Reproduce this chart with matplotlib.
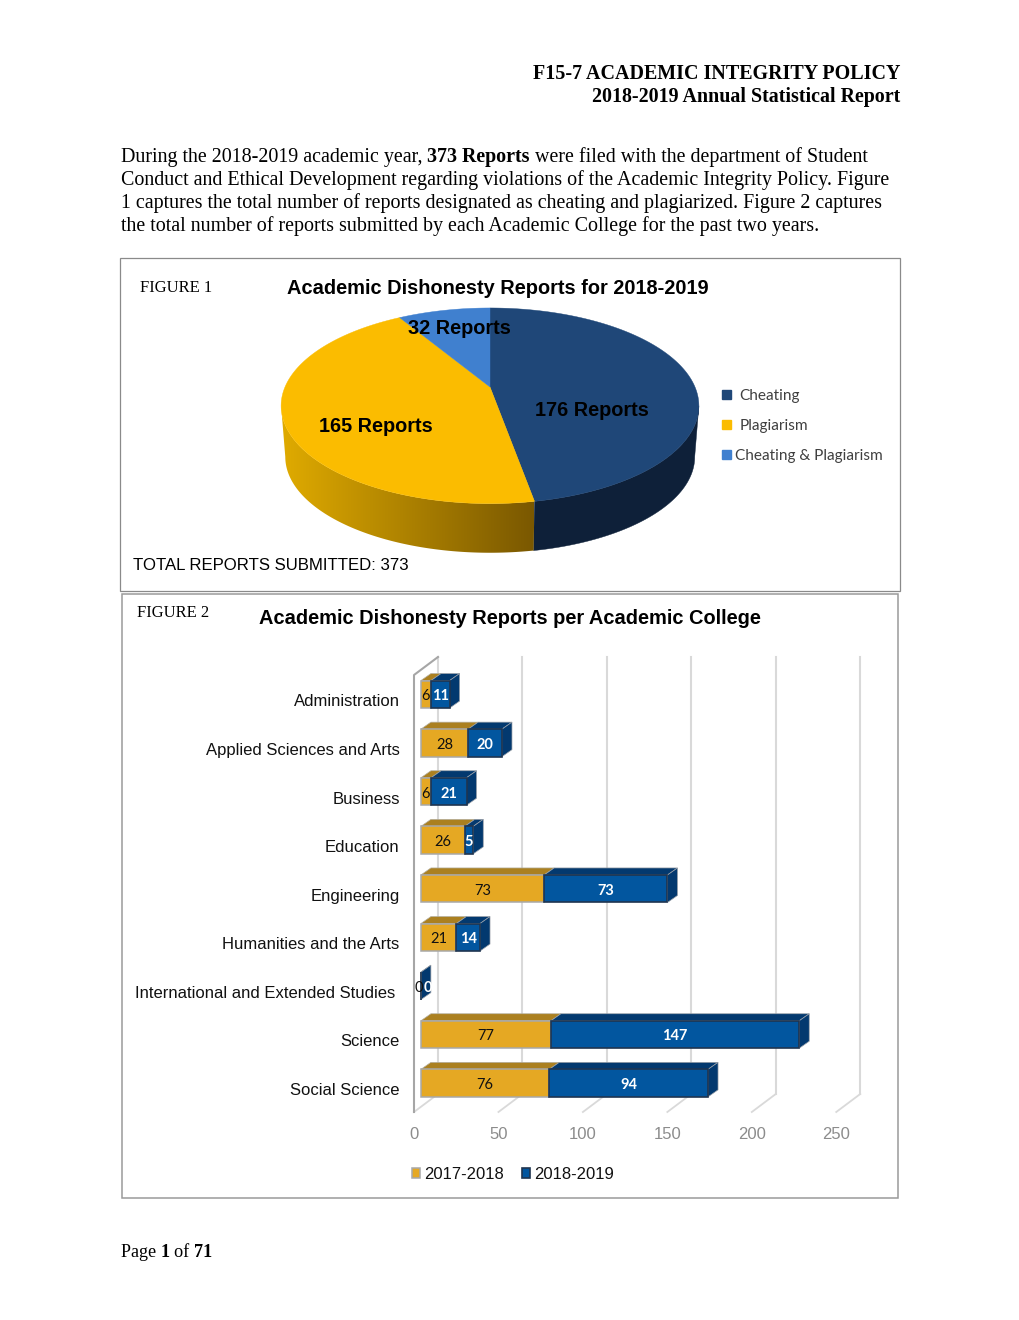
import numpy as np
import matplotlib
matplotlib.use("Agg")
import matplotlib.pyplot as plt
from matplotlib.patches import Polygon, Rectangle

# -----DATA-----
pie_labels = ['Cheating', 'Plagiarism', 'Cheating & Plagiarism']
pie_values = [176, 165, 32]
pie_text = ['176 Reports', '165 Reports', '32 Reports']

colleges = ['Administration', 'Applied Sciences and Arts', 'Business', 'Education', 'Engineering',
            'Humanities and the Arts', 'International and Extended Studies', 'Science', 'Social Science']
reports_2017 = [6, 28, 6, 26, 73, 21, 0, 77, 76]
reports_2018 = [11, 20, 21, 5, 73, 14, 0, 147, 94]
x_ticks = [0, 50, 100, 150, 200, 250]

SERIF = 'Liberation Serif'
SANS = 'Liberation Sans'
CALIBRI = 'Lato'

NAVY = '#1F4778'
YELLOW = '#FBBC00'
LIGHT_BLUE = '#4080CF'
GOLD = '#E5A823'
GOLD_DARK = '#AB8020'
BLUE = '#02569F'
BLUE_DARK = '#03396F'

fig = plt.figure(figsize=(10.2, 13.2), dpi=100)

# page axes, one unit is one pixel
page = fig.add_axes([0, 0, 1, 1])
page.axis('off')
renderer = fig.canvas.get_renderer()


def put_runs(x, y, runs, size=14.45):
    # runs of normal and bold text on one baseline
    for txt, bold in runs:
        t = page.text(x, y, txt, family=SERIF, fontsize=size, va='baseline',
                      fontweight='bold' if bold else 'normal', color='black')
        x += t.get_window_extent(renderer).width


page.set_xlim(0, 1020)
page.set_ylim(1320, 0)

# -----PAGE TEXT-----
page.text(900.5, 79, 'F15-7 ACADEMIC INTEGRITY POLICY', family=SERIF, fontsize=14.45, fontweight='bold',
          ha='right', va='baseline')
page.text(900.5, 102, '2018-2019 Annual Statistical Report', family=SERIF, fontsize=14.45, fontweight='bold',
          ha='right', va='baseline')

put_runs(121, 162, [('During the 2018-2019 academic year, ', False), ('373 Reports ', True),
                    ('were filed with the department of Student', False)])
put_runs(121, 185, [('Conduct and Ethical Development regarding violations of the Academic Integrity Policy. Figure', False)])
put_runs(121, 208, [('1 captures the total number of reports designated as cheating and plagiarized. Figure 2 captures', False)])
put_runs(121, 231, [('the total number of reports submitted by each Academic College for the past two years.', False)])
put_runs(121, 1257, [('Page ', False), ('1 ', True), ('of ', False), ('71', True)], size=13.1)

# figure boxes
page.add_patch(Rectangle((120.5, 258), 780, 333, fill=False, edgecolor='#8a8a8a', linewidth=0.9))
page.add_patch(Rectangle((122, 593.5), 776, 604.5, fill=False, edgecolor='#9a9a9a', linewidth=1.1))

# -----FIGURE 1-----
page.text(140, 292, 'FIGURE 1', family=SERIF, fontsize=11.9, va='baseline')
page.text(498, 288, 'Academic Dishonesty Reports for 2018-2019', family=SANS, fontsize=14.42, fontweight='bold',
          ha='center', va='center')
page.text(133, 565, 'TOTAL REPORTS SUBMITTED: 373', family=SANS, fontsize=12.1, va='center')


def rim(theta, scale=1.0, drop=0.0):
    # perspective view of the pie circle, theta runs clockwise from the top
    u = np.sin(theta)
    v = np.cos(theta)
    w = 1 + 0.192 * v
    return 490 + 205 * scale * u / w, 387 + drop - 94.2 * scale * v / w


angles = np.cumsum([0] + pie_values) / sum(pie_values) * 2 * np.pi
pie_colors = [NAVY, YELLOW, LIGHT_BLUE]


def wall_outline(start, stop):
    th = np.linspace(start, stop, 200)
    x1, y1 = rim(th)
    x2, y2 = rim(th, 0.98, 51.5)
    return np.column_stack([np.r_[x1, x2[::-1]], np.r_[y1, y2[::-1]]])


# side wall, runs between the widest points of the rim
widest = np.arccos(-0.192)
page.add_patch(Polygon(wall_outline(widest, angles[1]), facecolor='#0E2039', edgecolor='#0E2039', linewidth=0.3))

gold_wall = Polygon(wall_outline(angles[1], 2 * np.pi - widest), facecolor='none', edgecolor='none')
page.add_patch(gold_wall)
fade = np.linspace(0, 1, 256)[None, :, None]
fade = np.array([0xE0, 0xAB, 0x00]) * (1 - fade) + np.array([0x7A, 0x58, 0x00]) * fade
img = page.imshow(fade / 255, extent=[281, 534, 560, 380], aspect='auto', zorder=1, interpolation='bilinear')
img.set_clip_path(gold_wall)
page.set_xlim(0, 1020)
page.set_ylim(1320, 0)

# top of the pie
for i in range(3):
    th = np.linspace(angles[i], angles[i + 1], 160)
    x1, y1 = rim(th)
    page.add_patch(Polygon(np.column_stack([np.r_[490, x1], np.r_[387, y1]]), facecolor=pie_colors[i],
                           edgecolor=pie_colors[i], linewidth=0.3, zorder=2))

label_pos = [(591.5, 411), (376, 427), (459.5, 329)]
for txt, pos in zip(pie_text, label_pos):
    page.text(pos[0], pos[1], txt, family=SANS, fontsize=14.35, fontweight='bold', ha='center', va='center', zorder=3)

legend_y = [394.5, 424.5, 454.5]
legend_x = [739.5, 739.5, 735.5]
for i in range(3):
    page.add_patch(Rectangle((722.5, legend_y[i] - 4.5), 9, 9, color=pie_colors[i]))
    page.text(legend_x[i], legend_y[i] + 1.5, pie_labels[i], family=CALIBRI, fontsize=11.1, va='center', color='#404040')

# -----FIGURE 2-----
page.text(137, 617, 'FIGURE 2', family=SERIF, fontsize=11.9, va='baseline')
page.text(510, 619, 'Academic Dishonesty Reports per Academic College', family=SANS, fontsize=14.42,
          fontweight='bold', ha='center', va='center')

PX_X = 1.689    # pixels per report
PX_Y = 48.6     # pixels per category
ax = fig.add_axes([414 / 1020, 1 - 1112 / 1320, 456 / 1020, 455 / 1320])
ax.set_xlim(0, 456 / PX_X)
ax.set_ylim((1112 - 694.3) / PX_Y, (657 - 694.3) / PX_Y)
ax.patch.set_alpha(0)
for s in ax.spines.values():
    s.set_visible(False)

y = np.arange(len(colleges))
a = np.array(reports_2017)
b = np.array(reports_2018)
x0 = 6.9 / PX_X
h = 27.5 / PX_Y
dx = 10 / PX_X
dy = 7 / PX_Y

# walls and floor lines
wall_dx = 24 / PX_X
wall_dy = 18 / PX_Y
floor_y = ax.get_ylim()[0]
top_y = ax.get_ylim()[1]
for t in x_ticks:
    ax.plot([t, t + wall_dx], [floor_y, floor_y - wall_dy], color='#d9d9d9', lw=1.3, zorder=1, clip_on=False)
    ax.plot([t + wall_dx, t + wall_dx], [floor_y - wall_dy, top_y], color='#d9d9d9', lw=1.5, zorder=1, clip_on=False)
ax.plot([0, 0, wall_dx], [floor_y, top_y + wall_dy, top_y], color='#a6a6a6', lw=1.5, zorder=2, clip_on=False)

# bars, top and side faces go behind the front
bars_a = ax.barh(y, a, height=h, left=x0, color=GOLD, edgecolor='#a8a8a8', linewidth=1.1, zorder=4, label='2017-2018')
bars_b = ax.barh(y, b, height=h, left=x0 + a, color=BLUE, edgecolor='#1f3550', linewidth=1.2, zorder=5, label='2018-2019')
for i in range(len(colleges)):
    top = y[i] - h / 2
    low = y[i] + h / 2
    end_a = x0 + a[i]
    end_b = end_a + b[i]
    ax.add_patch(Polygon([(x0, top), (end_a, top), (end_a + dx, top - dy), (x0 + dx, top - dy)],
                         facecolor=GOLD_DARK, edgecolor='#b5b0a0', linewidth=0.5, zorder=3))
    ax.add_patch(Polygon([(end_a, top), (end_b, top), (end_b + dx, top - dy), (end_a + dx, top - dy)],
                         facecolor=BLUE_DARK, edgecolor='#9aa0a8', linewidth=0.5, zorder=3.5))
    ax.add_patch(Polygon([(end_b, top), (end_b + dx, top - dy), (end_b + dx, low - dy), (end_b, low)],
                         facecolor=BLUE_DARK, edgecolor='#9aa0a8', linewidth=0.5, zorder=3.5))
    # the empty row has both labels pushed apart
    nudge_a = -2.5 / PX_X if a[i] + b[i] == 0 else 0
    nudge_b = 7.0 / PX_X if a[i] + b[i] == 0 else 0
    ax.text(x0 + a[i] / 2 + nudge_a, y[i] + 2 / PX_Y, str(a[i]), family=CALIBRI, fontsize=10.5, color='#111111',
            ha='center', va='center', zorder=7, clip_on=False)
    ax.text(end_a + b[i] / 2 + nudge_b, y[i] + 2 / PX_Y, str(b[i]), family=CALIBRI, fontsize=10.5, fontweight='bold',
            color='white', ha='center', va='center', zorder=7, clip_on=False)
    right = -18.5 / PX_X if colleges[i].startswith('International') else -14.3 / PX_X
    ax.text(right, y[i] + 7.5 / PX_Y, colleges[i], family=SANS, fontsize=12, color='#111111',
            ha='right', va='center', clip_on=False)

ax.set_xticks(x_ticks)
ax.set_xticklabels(x_ticks, family=SANS, fontsize=12, color='#8c8c8c')
ax.tick_params(axis='x', length=0, pad=11)
ax.set_yticks([])

fig.legend(handles=[bars_a, bars_b], loc='center left', bbox_to_anchor=(398.5 / 1020, 1 - 1174.5 / 1320), ncol=2,
           frameon=False, prop={'family': SANS, 'size': 12}, handlelength=0.5, handleheight=0.5,
           handletextpad=0.25, columnspacing=1.05, borderpad=0.3, labelcolor='#111111')

fig.savefig('out.png', dpi=100)
